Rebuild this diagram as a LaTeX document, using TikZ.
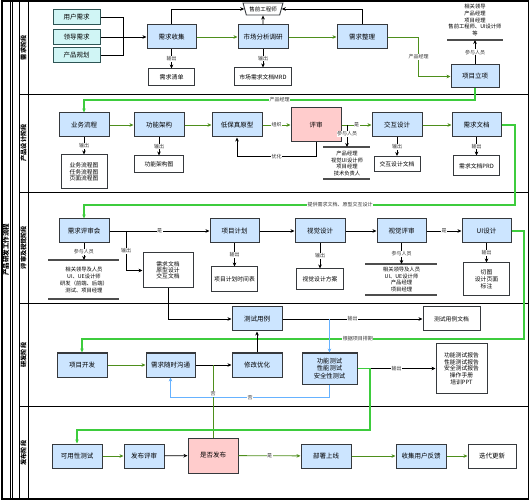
\documentclass[tikz,border=0pt]{standalone}
\usepackage{fontspec}
\setmainfont{Noto Sans CJK SC}
\usetikzlibrary{arrows.meta,shapes.geometric}
\definecolor{boxblue}{HTML}{CCE5FF}
\definecolor{cyanf}{HTML}{D0F5F5}
\definecolor{cyanb}{HTML}{2E5555}
\definecolor{pinkf}{HTML}{FFCCCC}
\definecolor{bordc}{HTML}{36393D}
\definecolor{dgreen}{HTML}{4E8F1C}
\definecolor{bgreen}{HTML}{3DCC3D}
\definecolor{lblue}{HTML}{66B2FF}
\definecolor{labc}{HTML}{333333}
\definecolor{plc}{HTML}{4D4D4D}
\tikzset{
  bx/.style={draw=bordc, line width=1pt, fill=boxblue, minimum width=50, minimum height=24, inner sep=1pt, font=\fontsize{6.5}{7.5}\selectfont, align=center},
  cy/.style={bx, draw=cyanb, fill=cyanf, minimum width=47, minimum height=15},
  pk/.style={bx, fill=pinkf, minimum height=34},
  ob/.style={draw=bordc, line width=1pt, fill=white, inner sep=1pt, font=\fontsize{5.8}{6.7}\selectfont, align=center},
  trap/.style={draw=bordc, line width=0.9pt, fill=white, trapezium, shape border rotate=180, trapezium left angle=65, trapezium right angle=65, trapezium stretches=true, minimum width=40, minimum height=12, inner sep=0.5pt, font=\fontsize{5.5}{6}\selectfont},
  lbl/.style={fill=white, inner sep=0.5pt, font=\fontsize{5}{6}\selectfont, text=labc},
  ptxt/.style={font=\fontsize{5.3}{6.7}\selectfont, align=center, inner sep=0pt},
  pline/.style={line width=1.2pt, draw=plc},
  ln/.style={line width=0.8pt, draw=black},
  ar/.style={ln, -{Stealth[length=4pt,width=3.6pt]}},
  dg/.style={ar, draw=dgreen},
  dgl/.style={ln, draw=dgreen},
  bgr/.style={ar, draw=bgreen, line width=1.2pt},
  bl/.style={ar, draw=lblue, line width=1pt},
  lanet/.style={rotate=90, font=\bfseries\fontsize{6.2}{7}\selectfont, inner sep=0pt},
}
\begin{document}
\begin{tikzpicture}[x=1pt,y=-1pt]
\useasboundingbox (0,0) rectangle (531,500);
% frame
\draw[line width=1.2pt] (2,1) rectangle (528.5,499);
\foreach \xx in {10,12,19,28} \draw[line width=0.8pt] (\xx,1) -- (\xx,499);
\foreach \yy in {94.5,192,303,406.5} \draw[line width=0.8pt] (19,\yy) -- (528.5,\yy);
\node[lanet, font=\bfseries\fontsize{6.5}{7}\selectfont] (pool) at (6,250) {产品研发工作流程};
\node[lanet] (l1) at (23.5,47.75) {需求阶段};
\node[lanet] (l2) at (23.5,143) {产品设计阶段};
\node[lanet] (l3) at (23.5,247.5) {评审及视觉阶段};
\node[lanet] (l4) at (23.5,355) {研发阶段};
\node[lanet] (l5) at (23.5,453) {发布阶段};

% ---------- lane 1
\node[cy] (yh) at (76.5,17.5) {用户需求};
\node[cy] (ld) at (76.5,37) {领导需求};
\node[cy] (cp) at (76.5,55.5) {产品规划};
\node[bx, minimum width=49] (xqsj) at (171.5,37) {需求收集};
\node[ob, minimum width=46, minimum height=17, font=\fontsize{6}{7}\selectfont] (xqqd) at (171.5,77.5) {需求清单};
\node[bx] (scfx) at (263,37) {市场分析调研};
\node[ob, minimum width=57, minimum height=18] (mrd) at (263,77) {市场需求文档MRD};
\node[trap] (sqgc) at (263,9) {售前工程师};
\node[bx] (xqzl) at (362,37) {需求整理};
\node[bx, minimum width=48, minimum height=23] (xmlx) at (475,76.5) {项目立项};
\coordinate (xmlxp) at (475,40);
\draw[pline] (447,40) -- (503,40);
\node[ptxt] (xmlxt) at (475,20) {相关领导\\产品经理\\项目经理\\售前工程师、UI设计师\\等};

\draw[ln] (yh.east) -- (123,17.5) -- (123,55.5) -- (cp.east);
\draw[ar] (ld.east) -- (xqsj.west);
\draw[ar] (xqsj.south) -- node[lbl]{输出} (xqqd.north);
\draw[ar] (xqsj.north) |- (sqgc.west);
\draw[ar] (scfx.north) -- (sqgc.south);
\draw[ar] (xqzl.north) |- (sqgc.east);
\draw[dg] (xqsj) -- (scfx);
\draw[dg] (scfx) -- (xqzl);
\draw[dg] (xqzl.east) -- ++(31,0) |- node[lbl,pos=0.25]{产品经理} (xmlx.west);
\draw[ar] (scfx.south) -- node[lbl]{输出} (mrd.north);
\draw[ar] (xmlx.north) -- node[lbl]{参与人员} (xmlxp);

% ---------- lane 2
\node[bx] (ywlc) at (84,125) {业务流程};
\node[ob, minimum width=46, minimum height=34] (ywlct) at (84,172) {业务流程图\\任务流程图\\页面流程图};
\node[bx] (gnjg) at (159,125) {功能架构};
\node[ob, minimum width=49, minimum height=17] (gnjgt) at (159,164.5) {功能架构图};
\node[bx] (dbz) at (237,125) {低保真原型};
\node[pk] (ps) at (316,125) {评审};
\node[bx] (jhsj) at (397,125) {交互设计};
\node[ob, minimum width=46, minimum height=15] (jhsjt) at (397,164) {交互设计文档};
\node[bx, minimum width=49] (xqwd) at (476.5,125) {需求文档};
\node[ob, minimum width=46, minimum height=20] (prd) at (476.5,166) {需求文档PRD};
\coordinate (psp) at (347,147);
\draw[pline] (323,147) -- (370,147);
\node[ptxt] (pst) at (347,163.5) {产品经理\\视觉UI设计师\\项目经理\\技术负责人};
\draw[pline] (323,179) -- (370,179);

\draw[bgr] (xmlx.south) -- (475,100) -- node[lbl]{产品经理} (84,100) -- (ywlc.north);
\draw[ar] (ywlc.south) -- node[lbl]{输出} (ywlct.north);
\draw[ar] (gnjg.south) -- node[lbl]{输出} (gnjgt.north);
\draw[ar] (jhsj.south) -- node[lbl]{输出} (jhsjt.north);
\draw[ar] (xqwd.south) -- node[lbl]{输出} (prd.north);
\draw[dg] (ywlc) -- (gnjg);
\draw[dg] (gnjg) -- (dbz);
\draw[dg] (dbz) -- node[lbl]{组织} (ps);
\draw[dg] (ps) -- node[lbl]{是} (jhsj);
\draw[dg] (jhsj) -- (xqwd);
\draw[ar] (ps.south) -- ++(0,14) -| node[lbl,pos=0.25]{优化} (dbz.south);
\draw[ar] (347,125) -- node[lbl,pos=0.4]{参与人员} (psp);

% ---------- lane 3
\node[bx] (xqpsh) at (84,231) {需求评审会};
\coordinate (xqpshp) at (84,260);
\draw[pline] (48,260) -- (119,260);
\node[ptxt] (xqpsht) at (84,280) {相关领导及人员\\UI、UE设计师\\研发（前端、后端）\\测试、项目经理};
\draw[pline] (48,299) -- (119,299);
\node[ob, minimum width=50, minimum height=35, font=\fontsize{5.8}{6.2}\selectfont] (box3) at (168,270.5) {需求文档\\原型设计\\交互文档};
\node[bx, minimum width=49] (xmjh) at (234.5,231) {项目计划};
\node[ob, minimum width=46, minimum height=25] (xmjht) at (234.5,279.5) {项目计划时间表};
\node[bx] (sjsj) at (320,231) {视觉设计};
\node[ob, minimum width=47, minimum height=21] (sjfa) at (320,279.5) {视觉设计方案};
\node[bx, minimum width=49] (sjps) at (401.5,231) {视觉评审};
\coordinate (sjpsp) at (401.5,264);
\draw[pline] (365,264) -- (437,264);
\node[ptxt] (sjpst) at (401.5,279.5) {相关领导及人员\\UI、UE设计师\\产品经理\\项目经理};
\draw[pline] (365,295) -- (437,295);
\node[bx, minimum width=49] (uisj) at (486.5,231) {UI设计};
\node[ob, minimum width=46, minimum height=33] (uit) at (486.5,279.5) {切图\\设计页面\\标注};

\draw[bgr] (xqwd.east) -- (515,125) -- (515,205) -- node[lbl,pos=0.406]{提供需求文档、原型交互设计} (84,205) -- (xqpsh.north);
\draw[ar] (xqpsh) -- node[lbl]{是} (xmjh);
\draw[ar] (126,231) |- node[lbl,pos=0.25]{输出} (box3.west);
\draw[ar] (xqpsh.south) -- node[lbl]{参与人员} (xqpshp);
\draw[ar] (xmjh.south) -- node[lbl]{输出} (xmjht.north);
\draw[ar] (sjsj.south) -- node[lbl]{输出} (sjfa.north);
\draw[ar] (uisj.south) -- node[lbl]{输出} (uit.north);
\draw[ar] (xmjh) -- (sjsj);
\draw[ar] (sjsj) -- (sjps);
\draw[ar] (sjps) -- node[lbl]{是} (uisj);
\draw[ar] (sjps.south) -- node[lbl]{参与人员} (sjpsp);

% ---------- lane 4
\node[bx] (csyl) at (257,319) {测试用例};
\node[ob, minimum width=57, minimum height=24] (csylwd) at (451.5,319) {测试用例文档};
\node[bx] (xmkf) at (82,365) {项目开发};
\node[bx, minimum width=49] (xqsg) at (170.5,365) {需求随时沟通};
\node[bx] (xgyh) at (257,365) {修改优化};
\node[bx, minimum width=55, minimum height=31, font=\fontsize{6.3}{7.3}\selectfont] (gncs) at (329.5,368.5) {功能测试\\性能测试\\安全性测试};
\node[ob, minimum width=51, minimum height=49] (bg) at (461.5,368.5) {功能测试报告\\性能测试报告\\安全测试报告\\操作手册\\培训PPT};

% ---------- lane 5
\node[bx] (kyx) at (77,456) {可用性测试};
\node[bx, minimum width=40] (fbps) at (144,456) {发布评审};
\node[pk, minimum height=35] (sffb) at (213,455.5) {是否发布};
\node[bx] (bssx) at (326,456) {部署上线};
\node[bx] (sjfk) at (421,456) {收集用户反馈};
\node[ob, minimum width=48, minimum height=24, font=\fontsize{6.5}{7.5}\selectfont] (ddgx) at (492,456) {迭代更新};

\draw[bgr] (uisj.east) -- (524,231) -- (524,339) -- node[lbl,pos=0.376]{根据项目排期} (82,339) -- (xmkf.north);
\draw[ar] (box3.south) |- (csyl.west);
\draw[ar] (csyl) -- node[lbl]{输出} (csylwd);
\draw[bl] (329.5,319) -- (gncs.north);
\draw[dg] (xmkf) -- (xqsg);
\draw[ar] (xqsg) -- (xgyh);
\draw[ar] (xgyh) -- (csyl);
\draw[bl] (gncs.south) -- ++(0,13) -| node[lbl,pos=0.25]{否} (xqsg.south);
\draw[dgl] (sffb.north) -- node[lbl,pos=0.6]{否} (213,365);
\draw[ar] (gncs.east) -- node[lbl]{输出} (bg.west);
\draw[bgr] (gncs.east) -- (370,368.5) -- (370,430) -- (77,430) -- (kyx.north);

\draw[dg] (kyx) -- (fbps);
\draw[ar] (fbps) -- (sffb);
\draw[dg] (sffb) -- node[lbl]{是} (bssx);
\draw[dg] (bssx) -- (sjfk);
\draw[dg] (sjfk) -- (ddgx);
\end{tikzpicture}
\end{document}
